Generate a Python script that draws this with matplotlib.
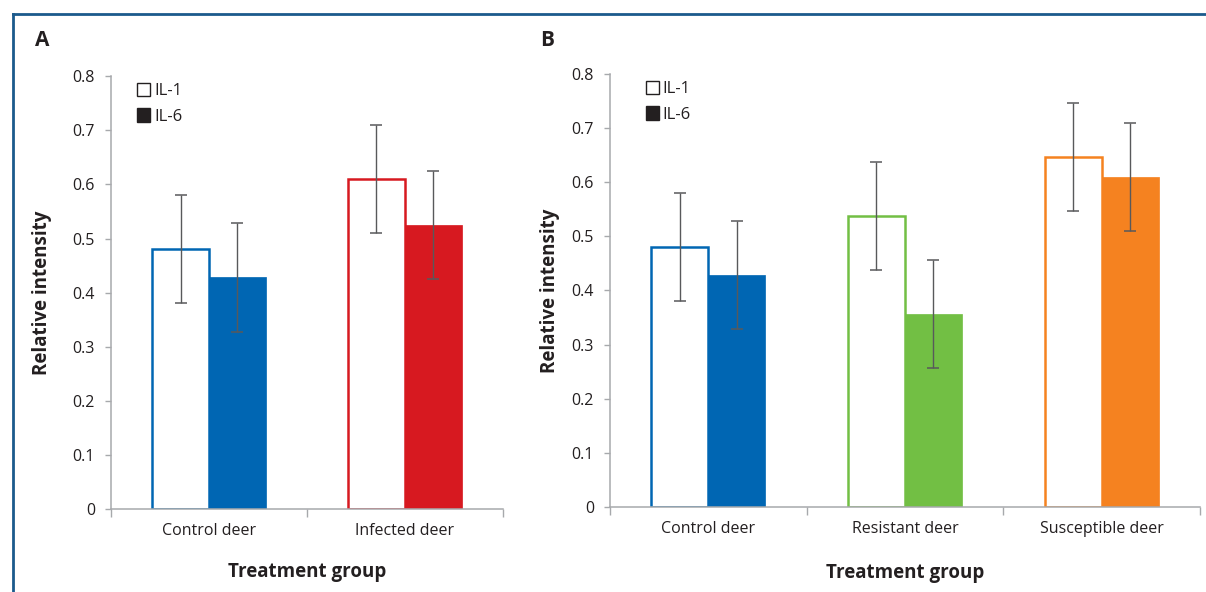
import matplotlib.pyplot as plt
from matplotlib.patches import Patch
from matplotlib.lines import Line2D

plt.rcParams['font.family'] = ['Open Sans', 'DejaVu Sans']

# panel A
groups_a = ['Control deer', 'Infected deer']
il1_a = [0.48, 0.61]
il6_a = [0.428, 0.525]
err_a = [0.1, 0.1]
colors_a = ['#0066b3', '#d71920']

# panel B
groups_b = ['Control deer', 'Resistant deer', 'Susceptible deer']
il1_b = [0.48, 0.538, 0.647]
il6_b = [0.428, 0.356, 0.609]
err_b = [0.1, 0.1, 0.1]
colors_b = ['#0066b3', '#72bf44', '#f58220']

yticks = [0, 0.1, 0.2, 0.3, 0.4, 0.5, 0.6, 0.7, 0.8]
ytick_labels = ['0', '0.1', '0.2', '0.3', '0.4', '0.5', '0.6', '0.7', '0.8']

txt = '#231f20'
grey = '#a7a9ac'
w = 0.29

fig = plt.figure(figsize=(12.06, 5.92), dpi=100)
ax_a = fig.add_axes([0.092, 0.140, 0.325, 0.7314])
ax_b = fig.add_axes([0.5058, 0.1436, 0.4892, 0.7314])


def draw(ax, groups, il1, il6, err, colors, ylab_x, xlab_y):
    n = len(groups)
    xs = [i + 0.5 for i in range(n)]
    x1 = [x - w / 2 for x in xs]
    x6 = [x + w / 2 for x in xs]
    ax.bar(x1, il1, width=w, facecolor='white', edgecolor=colors, linewidth=1.8, zorder=2)
    ax.bar(x6, il6, width=w, color=colors, edgecolor=colors, linewidth=0.5, zorder=2)
    for xx, vals in [(x1, il1), (x6, il6)]:
        eb = ax.errorbar(xx, vals, yerr=err, fmt='none', ecolor='#58595b',
                         elinewidth=1.0, capsize=4.5, capthick=1.1, zorder=3)
        for c in eb[1]:
            c.set_color('#231f20')

    ax.set_xlim(0, n)
    ax.set_ylim(0, 0.8)
    ax.set_yticks(yticks)
    ax.set_yticklabels(ytick_labels)
    ax.set_xticks(range(n + 1))
    ax.set_xticklabels([])
    ax.set_xticks(xs, minor=True)
    ax.set_xticklabels(groups, minor=True)
    ax.tick_params(axis='x', which='major', length=6, width=1, color=grey, direction='out')
    ax.tick_params(axis='x', which='minor', length=0, pad=10, labelsize=11.5, labelcolor=txt)
    ax.tick_params(axis='y', length=4.5, width=1, color=grey, pad=7, labelsize=11.5, labelcolor=txt)
    for s in ['top', 'right']:
        ax.spines[s].set_visible(False)
    for s in ['left', 'bottom']:
        ax.spines[s].set_color(grey)
        ax.spines[s].set_linewidth(1.1)

    ax.set_ylabel('Relative intensity', fontsize=13.5, fontweight='bold', color=txt)
    ax.yaxis.set_label_coords(ylab_x, 0.5)
    ax.yaxis.label.set_va('center')
    ax.set_xlabel('Treatment group', fontsize=13.5, fontweight='bold', color=txt)
    ax.xaxis.set_label_coords(0.5, xlab_y)
    ax.xaxis.label.set_va('center')

    handles = [Patch(facecolor='white', edgecolor=txt, linewidth=1),
               Patch(facecolor=txt, edgecolor=txt)]
    ax.legend(handles, ['IL-1', 'IL-6'], loc='upper left', bbox_to_anchor=(0.05, 1.0),
              frameon=False, handlelength=0.75, handleheight=0.85, handletextpad=0.25,
              labelspacing=0.55, borderaxespad=0, fontsize=12, labelcolor=txt)


draw(ax_a, groups_a, il1_a, il6_a, err_a, colors_a, -0.176, -0.145)
draw(ax_b, groups_b, il1_b, il6_b, err_b, colors_b, -0.102, -0.152)

fig.text(0.035, 0.932, 'A', fontsize=15, fontweight='bold', color=txt, ha='center', va='center')
fig.text(0.454, 0.932, 'B', fontsize=15, fontweight='bold', color=txt, ha='center', va='center')

# frame lines
border = '#1b5a8c'
fig.add_artist(Line2D([0.0105, 1], [0.976, 0.976], color=border, lw=2, transform=fig.transFigure))
fig.add_artist(Line2D([0.0105, 0.0105], [0, 0.976], color=border, lw=2, transform=fig.transFigure))

fig.savefig('out.png', dpi=100)
